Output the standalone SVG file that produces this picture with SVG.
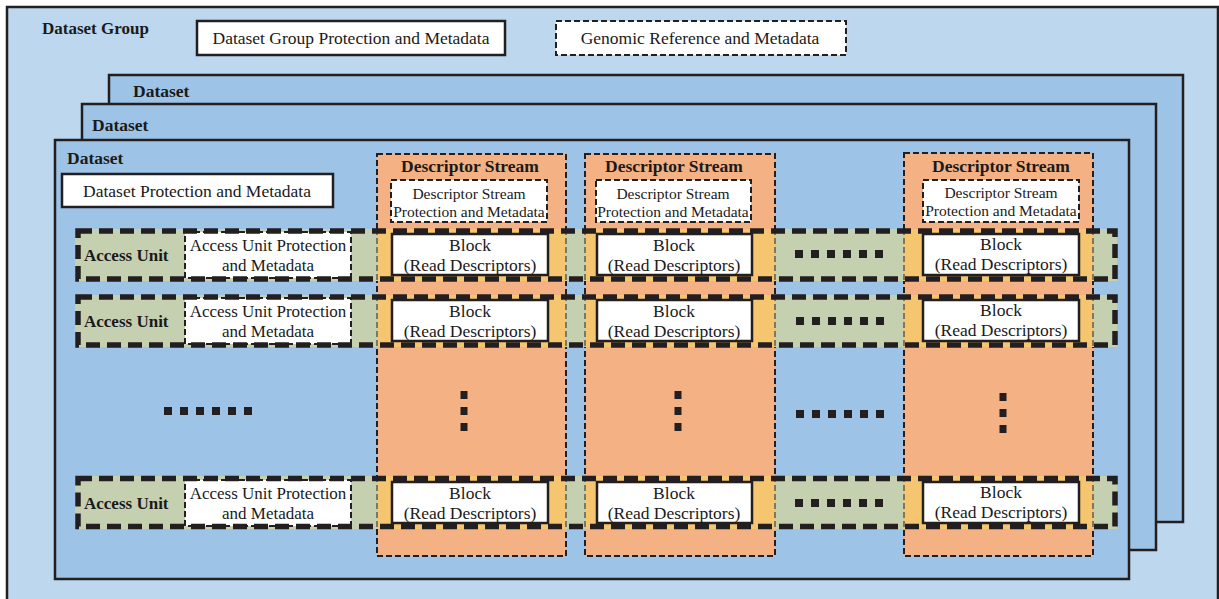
<svg xmlns="http://www.w3.org/2000/svg" width="1219" height="599" viewBox="0 0 1219 599">
<style>
text{font-family:"Liberation Serif","DejaVu Serif",serif;fill:#1a1a1a}
.b{font-weight:bold}
.t16{font-size:17.5px}
.t17{font-size:17px}
.t15{font-size:17.5px}
.t14{font-size:15.5px}
.solid{stroke:#231f20;stroke-width:2.5}
.thin{fill:none;stroke:#231f20;stroke-width:2;stroke-dasharray:6 3}
.wdash{fill:#fff;stroke:#231f20;stroke-width:2;stroke-dasharray:6 3}
.edge{stroke:#5e5e52;stroke-width:1.5;stroke-dasharray:6 3}
.row{fill:none;stroke:#231f20;stroke-width:5.5;stroke-dasharray:14 7}
.dot{fill:#231f20}
</style>
<defs>
<g id="hdots"><rect x="0" y="-4" width="8" height="8"/><rect x="16" y="-4" width="8" height="8"/><rect x="32" y="-4" width="8" height="8"/><rect x="48" y="-4" width="8" height="8"/><rect x="64" y="-4" width="8" height="8"/><rect x="80" y="-4" width="8" height="8"/></g>
<g id="vdots"><rect x="-3.5" y="-4" width="7" height="8"/><rect x="-3.5" y="12" width="7" height="8"/><rect x="-3.5" y="28" width="7" height="8"/></g>
</defs>

<g id="dataset-group">
<rect x="7" y="7" width="1211" height="600" fill="#bdd7ee" class="solid"/>
<text x="42" y="34" class="b t17">Dataset Group</text>
</g>
<g id="dataset-group-pm">
<rect x="197" y="21" width="308" height="34" fill="#fff" class="solid"/>
<text x="351" y="44" class="t16" text-anchor="middle">Dataset Group Protection and Metadata</text>
</g>
<g id="genomic-reference">
<rect x="556" y="21" width="290" height="34" class="wdash"/>
<text x="700" y="44" class="t16" text-anchor="middle">Genomic Reference and Metadata</text>
</g>

<g id="dataset-3">
<rect x="109" y="75" width="1074" height="447" fill="#9dc3e6" class="solid"/>
<text x="133" y="97" class="b t15">Dataset</text>
</g>
<g id="dataset-2">
<rect x="82" y="104" width="1074" height="446" fill="#9dc3e6" class="solid"/>
<text x="92" y="131" class="b t15">Dataset</text>
</g>
<g id="dataset-1">
<rect x="55" y="140" width="1074" height="439" fill="#9dc3e6" class="solid"/>
<text x="67" y="164" class="b t15">Dataset</text>
</g>
<g id="dataset-pm">
<rect x="62" y="174" width="271" height="33" fill="#fff" class="solid"/>
<text x="197" y="197" class="t16" text-anchor="middle">Dataset Protection and Metadata</text>
</g>

<!-- descriptor stream columns -->
<g id="ds-col-1">
<rect x="377" y="154" width="189" height="402" fill="#f4b183"/>
<rect x="377" y="154" width="189" height="402" class="thin"/>
<text x="470" y="172" class="b t16" text-anchor="middle">Descriptor Stream</text>
<rect x="391" y="180" width="156" height="42" class="wdash"/>
<text x="469" y="199" class="t14" text-anchor="middle">Descriptor Stream</text>
<text x="469" y="217" class="t14" text-anchor="middle">Protection and Metadata</text>
</g>
<g id="ds-col-2">
<rect x="585" y="154" width="190" height="402" fill="#f4b183"/>
<rect x="585" y="154" width="190" height="402" class="thin"/>
<text x="674" y="172" class="b t16" text-anchor="middle">Descriptor Stream</text>
<rect x="596" y="180" width="155" height="42" class="wdash"/>
<text x="673" y="199" class="t14" text-anchor="middle">Descriptor Stream</text>
<text x="673" y="217" class="t14" text-anchor="middle">Protection and Metadata</text>
</g>
<g id="ds-col-3">
<rect x="904" y="153" width="189" height="403" fill="#f4b183"/>
<rect x="904" y="153" width="189" height="403" class="thin"/>
<text x="1001" y="172" class="b t16" text-anchor="middle">Descriptor Stream</text>
<rect x="923" y="180" width="156" height="42" class="wdash"/>
<text x="1001" y="198" class="t14" text-anchor="middle">Descriptor Stream</text>
<text x="1001" y="216" class="t14" text-anchor="middle">Protection and Metadata</text>
</g>

<!-- access unit rows -->
<g id="au-row-1">
<rect x="75" y="229" width="1042" height="52" fill="#c5d0b1"/>
<rect x="377" y="229" width="189" height="52" fill="#f5c56f"/>
<rect x="585" y="229" width="190" height="52" fill="#f5c56f"/>
<rect x="904" y="229" width="189" height="52" fill="#f5c56f"/>
<path class="edge" d="M377 229V281M566 229V281M585 229V281M775 229V281M904 229V281M1093 229V281"/>
<text x="84" y="261" class="b t17">Access Unit</text>
<rect x="185" y="232" width="166" height="46" class="wdash"/>
<text x="268" y="251" class="t17" text-anchor="middle">Access Unit Protection</text>
<text x="268" y="271" class="t17" text-anchor="middle">and Metadata</text>
<rect x="392" y="234" width="156" height="41" fill="#fff" class="solid"/>
<text x="470" y="251" class="t16" text-anchor="middle">Block</text>
<text x="470" y="271" class="t16" text-anchor="middle">(Read Descriptors)</text>
<rect x="597" y="234" width="155" height="41" fill="#fff" class="solid"/>
<text x="674" y="251" class="t16" text-anchor="middle">Block</text>
<text x="674" y="271" class="t16" text-anchor="middle">(Read Descriptors)</text>
<rect x="923" y="234" width="156" height="41" fill="#fff" class="solid"/>
<text x="1001" y="250" class="t16" text-anchor="middle">Block</text>
<text x="1001" y="270" class="t16" text-anchor="middle">(Read Descriptors)</text>
<use href="#hdots" x="795" y="254" class="dot"/>
<rect x="78" y="231" width="1037" height="48" class="row"/>
</g>

<g id="au-row-2">
<rect x="75" y="295" width="1042" height="52" fill="#c5d0b1"/>
<rect x="377" y="295" width="189" height="52" fill="#f5c56f"/>
<rect x="585" y="295" width="190" height="52" fill="#f5c56f"/>
<rect x="904" y="295" width="189" height="52" fill="#f5c56f"/>
<path class="edge" d="M377 295V347M566 295V347M585 295V347M775 295V347M904 295V347M1093 295V347"/>
<text x="84" y="327" class="b t17">Access Unit</text>
<rect x="185" y="298" width="166" height="46" class="wdash"/>
<text x="268" y="317" class="t17" text-anchor="middle">Access Unit Protection</text>
<text x="268" y="337" class="t17" text-anchor="middle">and Metadata</text>
<rect x="392" y="300" width="156" height="41" fill="#fff" class="solid"/>
<text x="470" y="317" class="t16" text-anchor="middle">Block</text>
<text x="470" y="337" class="t16" text-anchor="middle">(Read Descriptors)</text>
<rect x="597" y="300" width="155" height="41" fill="#fff" class="solid"/>
<text x="674" y="317" class="t16" text-anchor="middle">Block</text>
<text x="674" y="337" class="t16" text-anchor="middle">(Read Descriptors)</text>
<rect x="923" y="300" width="156" height="41" fill="#fff" class="solid"/>
<text x="1001" y="316" class="t16" text-anchor="middle">Block</text>
<text x="1001" y="336" class="t16" text-anchor="middle">(Read Descriptors)</text>
<use href="#hdots" x="796" y="321" class="dot"/>
<rect x="78" y="297" width="1037" height="48" class="row"/>
</g>

<g id="ellipsis" class="dot">
<use href="#hdots" x="164" y="411"/>
<use href="#hdots" x="796" y="414"/>
<use href="#vdots" x="464" y="395"/>
<use href="#vdots" x="678" y="395"/>
<use href="#vdots" x="1003" y="397"/>
</g>

<g id="au-row-3">
<rect x="75" y="476" width="1042" height="53" fill="#c5d0b1"/>
<rect x="377" y="476" width="189" height="53" fill="#f5c56f"/>
<rect x="585" y="476" width="190" height="53" fill="#f5c56f"/>
<rect x="904" y="476" width="189" height="53" fill="#f5c56f"/>
<path class="edge" d="M377 476V529M566 476V529M585 476V529M775 476V529M904 476V529M1093 476V529"/>
<text x="84" y="509" class="b t17">Access Unit</text>
<rect x="185" y="480" width="166" height="46" class="wdash"/>
<text x="268" y="499" class="t17" text-anchor="middle">Access Unit Protection</text>
<text x="268" y="519" class="t17" text-anchor="middle">and Metadata</text>
<rect x="392" y="482" width="156" height="41" fill="#fff" class="solid"/>
<text x="470" y="499" class="t16" text-anchor="middle">Block</text>
<text x="470" y="519" class="t16" text-anchor="middle">(Read Descriptors)</text>
<rect x="597" y="482" width="155" height="41" fill="#fff" class="solid"/>
<text x="674" y="499" class="t16" text-anchor="middle">Block</text>
<text x="674" y="519" class="t16" text-anchor="middle">(Read Descriptors)</text>
<rect x="923" y="482" width="156" height="41" fill="#fff" class="solid"/>
<text x="1001" y="498" class="t16" text-anchor="middle">Block</text>
<text x="1001" y="518" class="t16" text-anchor="middle">(Read Descriptors)</text>
<use href="#hdots" x="795" y="503" class="dot"/>
<rect x="78" y="478.5" width="1037" height="48" class="row"/>
</g>

<g id="connectors"/>
</svg>
